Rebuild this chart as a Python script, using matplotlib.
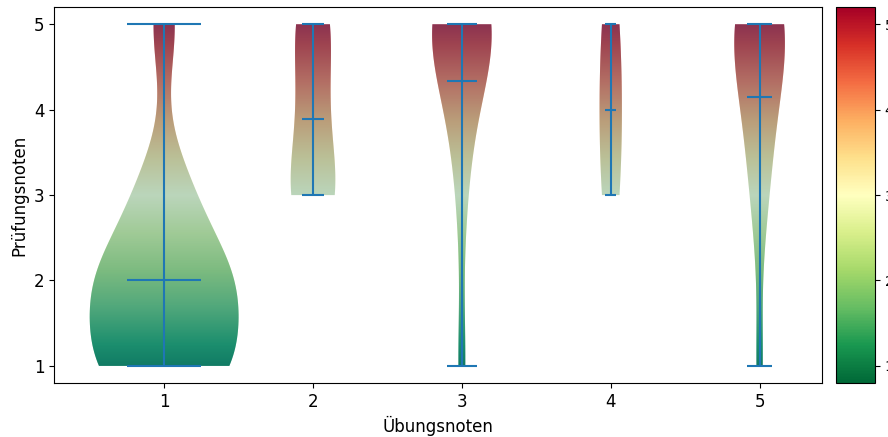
import numpy as np
import matplotlib
matplotlib.use("Agg")
import matplotlib.pyplot as plt

# Anzahl Studierende je Prüfungsnote (1..5) für jede Übungsnote
grades = [1, 2, 3, 4, 5]
uebung_1 = [10, 10, 4, 0, 2]
uebung_2 = [0, 0, 4, 2, 3]
uebung_3 = [1, 0, 1, 2, 8]
uebung_4 = [0, 0, 1, 1, 1]
uebung_5 = [1, 0, 2, 3, 7]

positions = [1, 2, 3, 4, 5]
violin_widths = [1.0, 0.3, 0.4, 0.15, 0.34]

data = [np.repeat(grades, c).astype(float)
        for c in (uebung_1, uebung_2, uebung_3, uebung_4, uebung_5)]

fig = plt.figure(figsize=(8.88, 4.37), dpi=100)
ax = fig.add_axes([0.0608, 0.1236, 0.865, 0.860])
cax = fig.add_axes([0.9414, 0.1236, 0.044, 0.860])

vp = ax.violinplot(data, positions=positions, widths=violin_widths,
                   showmeans=True, showextrema=True)

ymin, ymax = 0.8, 5.2
xmin, xmax = 0.26, 5.42
grad = np.linspace(ymin, ymax, 256).reshape(-1, 1)

# Farbverlauf in jede Violine einblenden
img = None
for body in vp["bodies"]:
    img = ax.imshow(grad, cmap="RdYlGn_r", vmin=ymin, vmax=ymax,
                    extent=(xmin, xmax, ymin, ymax), origin="lower",
                    aspect="auto", zorder=0.5)
    img.set_clip_path(body.get_paths()[0], transform=ax.transData)

ax.set_xlim(xmin, xmax)
ax.set_ylim(ymin, ymax)
ax.set_xticks(positions)
ax.set_yticks([1, 2, 3, 4, 5])
ax.tick_params(labelsize=12)
ax.set_xlabel("Übungsnoten", fontsize=12)
ax.set_ylabel("Prüfungsnoten", fontsize=12)

cb = fig.colorbar(img, cax=cax)
cb.set_ticks([1, 2, 3, 4, 5])
cb.ax.tick_params(labelsize=10)

fig.savefig("out.png", dpi=100)
